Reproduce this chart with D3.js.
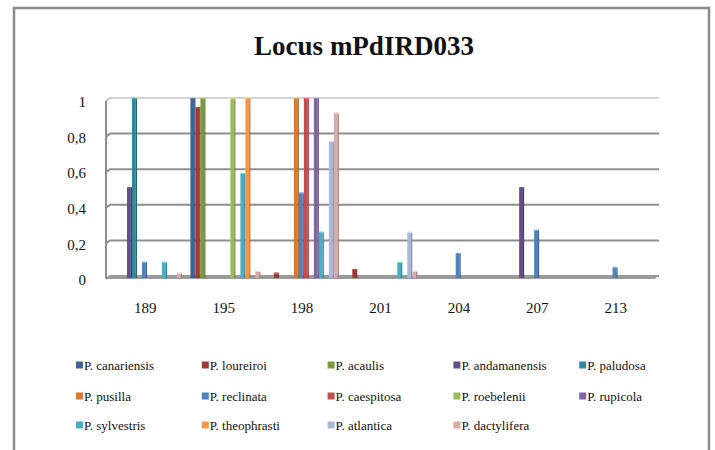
<!DOCTYPE html>
<html>
<head>
<meta charset="utf-8">
<title>Locus mPdIRD033</title>
<style>
html, body {
  margin: 0;
  padding: 0;
  width: 715px;
  height: 450px;
  overflow: hidden;
  background: #fff;
}
text {
  font-family: 'Times New Roman', Times, serif;
  fill: #111;
}
</style>
<script src="https://d3js.org/d3.v7.min.js"></script>
</head>
<body>
<svg width="715" height="450"></svg>
<script>

// allele sizes
var categories = ["189", "195", "198", "201", "204", "207", "213"];

var seriesNames = ["P. canariensis", "P. loureiroi", "P. acaulis", "P. andamanensis", "P. paludosa",
                   "P. pusilla", "P. reclinata", "P. caespitosa", "P. roebelenii", "P. rupicola",
                   "P. sylvestris", "P. theophrasti", "P. atlantica", "P. dactylifera"];

var seriesColors = ["#3d6399", "#9e3b39", "#7a9a3e", "#654e88", "#35869f",
                    "#d47a32", "#4f81bd", "#c0504d", "#9bbb59", "#8064a2",
                    "#4bacc6", "#f79646", "#a9b9da", "#dba9a8"];

// frequencies per species, one value per allele
var canariensis  = [0,    1,    0,    0,    0,    0,    0];
var loureiroi    = [0,    0.95, 0.02, 0.04, 0,    0,    0];
var acaulis      = [0,    1,    0,    0,    0,    0,    0];
var andamanensis = [0.5,  0,    0,    0,    0,    0.5,  0];
var paludosa     = [1,    0,    0,    0,    0,    0,    0];
var pusilla      = [0,    0,    1,    0,    0,    0,    0];
var reclinata    = [0.08, 0,    0.47, 0,    0.13, 0.26, 0.05];
var caespitosa   = [0,    0,    1,    0,    0,    0,    0];
var roebelenii   = [0,    1,    0,    0,    0,    0,    0];
var rupicola     = [0,    0,    1,    0,    0,    0,    0];
var sylvestris   = [0.08, 0.58, 0.25, 0.08, 0,    0,    0];
var theophrasti  = [0,    1,    0,    0,    0,    0,    0];
var atlantica    = [0,    0,    0.76, 0.25, 0,    0,    0];
var dactylifera  = [0.02, 0.03, 0.92, 0.03, 0,    0,    0];

var seriesValues = [canariensis, loureiroi, acaulis, andamanensis, paludosa,
                    pusilla, reclinata, caespitosa, roebelenii, rupicola,
                    sylvestris, theophrasti, atlantica, dactylifera];

var yTicks = [0, 0.2, 0.4, 0.6, 0.8, 1];
var yTickLabels = ["0", "0,2", "0,4", "0,6", "0,8", "1"];

var svg = d3.select("svg");

// chart frame
svg.append("rect")
    .attr("x", 14).attr("y", 8)
    .attr("width", 695).attr("height", 500)
    .attr("fill", "none")
    .attr("stroke", "#8a8a8a")
    .attr("stroke-width", 2.5);

svg.append("text")
    .attr("x", 364).attr("y", 55)
    .attr("text-anchor", "middle")
    .style("font-size", "27px")
    .style("font-weight", "bold")
    .text("Locus mPdIRD033");

var x = d3.scaleBand().domain(categories).range([110, 659]);
var xs = d3.scaleBand().domain(d3.range(seriesNames.length)).range([2, 72]);
var y = d3.scaleLinear().domain([0, 1]).range([276, 98]);

var depthX = 4, depthY = 3; // small side-wall slant

// gridlines on back and side wall
svg.selectAll(".grid")
    .data(yTicks)
    .enter().append("path")
      .attr("class", "grid")
      .attr("fill", "none")
      .attr("stroke-width", function(d) { return d === 1 ? 1.2 : 2; })
      .attr("stroke", function(d) { return d === 1 ? "#a8a8a8" : "#8e8e8e"; })
      .attr("d", function(d) {
        return "M" + (110 - depthX) + "," + (y(d) + depthY) + "L110," + y(d) + "L659," + y(d);
      });

svg.append("line")
    .attr("x1", 110 - depthX).attr("x2", 110 - depthX)
    .attr("y1", y(1) + depthY).attr("y2", y(0) + depthY)
    .attr("stroke", "#8e8e8e").attr("stroke-width", 2);

// floor
svg.append("path")
    .attr("d", "M" + (110 - depthX) + "," + (y(0) + depthY) + "L110," + (y(0) - 1) +
               "L659," + (y(0) - 1) + "L" + (659 - depthX) + "," + (y(0) + depthY) + "Z")
    .attr("fill", "#9a9a9a");

// bars (zero values leave no column)
var bars = [];
seriesValues.forEach(function(vals, s) {
  vals.forEach(function(v, c) {
    if (v > 0) bars.push({s: s, c: categories[c], v: v});
  });
});

var bw = xs.bandwidth();
var g = svg.selectAll(".bar")
    .data(bars)
    .enter().append("g")
      .attr("class", "bar")
      .attr("transform", function(d) { return "translate(" + (x(d.c) + xs(d.s)) + ",0)"; });

// front face
g.append("rect")
    .attr("x", 0)
    .attr("y", function(d) { return y(d.v) + 1; })
    .attr("width", bw - 1.2)
    .attr("height", function(d) { return y(0) - y(d.v) + 1; })
    .attr("fill", function(d) { return seriesColors[d.s]; });

// right side face
g.append("rect")
    .attr("x", bw - 1.2)
    .attr("y", function(d) { return y(d.v) + 1; })
    .attr("width", 1.2)
    .attr("height", function(d) { return y(0) - y(d.v) + 1; })
    .attr("fill", function(d) { return d3.color(seriesColors[d.s]).darker(0.8); });

// top face
g.append("rect")
    .attr("x", 0)
    .attr("y", function(d) { return y(d.v); })
    .attr("width", bw)
    .attr("height", 1.2)
    .attr("fill", function(d) { return d3.color(seriesColors[d.s]).brighter(0.6); });

// y axis labels
svg.selectAll(".ytick")
    .data(yTicks)
    .enter().append("text")
      .attr("class", "ytick")
      .attr("x", 86)
      .attr("y", function(d) { return y(d) + 4; })
      .attr("dy", "0.35em")
      .attr("text-anchor", "end")
      .style("font-size", "15px")
      .text(function(d, i) { return yTickLabels[i]; });

// x axis labels
svg.selectAll(".xtick")
    .data(categories)
    .enter().append("text")
      .attr("class", "xtick")
      .attr("x", function(d) { return x(d) + x.bandwidth() / 2 - 4; })
      .attr("y", 313)
      .attr("text-anchor", "middle")
      .style("font-size", "15px")
      .text(function(d) { return d; });

// legend, 5 columns
var legend = svg.selectAll(".legend")
    .data(seriesNames)
    .enter().append("g")
      .attr("class", "legend")
      .attr("transform", function(d, i) {
        return "translate(" + (76 + (i % 5) * 125.8) + "," + [365, 396, 425][Math.floor(i / 5)] + ")";
      });

legend.append("rect")
    .attr("x", 0).attr("y", -3.5)
    .attr("width", 7).attr("height", 7)
    .attr("fill", function(d, i) { return seriesColors[i]; });

legend.append("text")
    .attr("x", 8)
    .attr("dy", "0.35em")
    .style("font-size", "13px")
    .text(function(d) { return d; });

</script>
</body>
</html>
